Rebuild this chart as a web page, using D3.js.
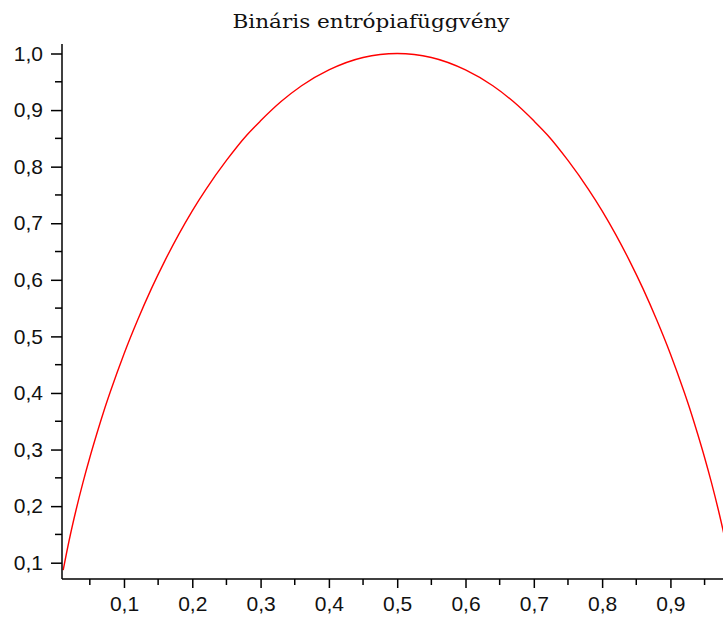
<!DOCTYPE html>
<html><head><meta charset="utf-8">
<script src="https://cdn.jsdelivr.net/npm/d3@7"></script>
<style>body{margin:0;background:#fff;} svg{display:block;}</style>
</head><body>
<svg id="c" width="723" height="618"></svg>
<script>
const title = "Bináris entrópiafüggvény";
const pValues = [0.011,0.02,0.03,0.04,0.05,0.06,0.07,0.08,0.10,0.12,0.14,0.16,0.18,0.20,0.22,0.25,0.28,0.30,0.33,0.36,0.40,0.45,0.50,
                 0.55,0.60,0.64,0.67,0.70,0.72,0.75,0.78,0.80,0.82,0.84,0.86,0.88,0.90,0.92,0.93,0.94,0.95,0.96,0.97,0.98,0.99];
const hValues = [0.087,0.141,0.194,0.242,0.286,0.327,0.366,0.402,0.469,0.529,0.584,0.634,0.680,0.722,0.760,0.811,0.856,0.881,0.915,0.943,0.971,0.993,1.000,
                 0.993,0.971,0.943,0.915,0.881,0.856,0.811,0.760,0.722,0.680,0.634,0.584,0.529,0.469,0.402,0.366,0.327,0.286,0.242,0.194,0.141,0.081];
const xTickValues = [0.1,0.2,0.3,0.4,0.5,0.6,0.7,0.8,0.9];
const xMinorValues = [0.05,0.15,0.25,0.35,0.45,0.55,0.65,0.75,0.85,0.95];
const yTickValues = [0.1,0.2,0.3,0.4,0.5,0.6,0.7,0.8,0.9,1.0];
const yMinorValues = [0.15,0.25,0.35,0.45,0.55,0.65,0.75,0.85,0.95];

const svg = d3.select("#c");
const fmt = d => d3.format(".1f")(d).replace(".", ",");

const x = d3.scaleLinear().domain([0.01, 0.99]).range([62.5, 731.9]);
const y = d3.scaleLinear().domain([0.0712, 1.0]).range([579, 53.5]);
const axisX = 62, axisY = 579;

// curve
const data = pValues.map((p,i)=>[p,hValues[i]]);
svg.append("path").datum(data)
  .attr("fill","none").attr("stroke","#ff0000").attr("stroke-width",1.4)
  .attr("d", d3.line().x(d=>x(d[0])).y(d=>y(d[1])).curve(d3.curveMonotoneX));

// x axis
const gx = svg.append("g").attr("transform",`translate(0,${axisY})`);
gx.call(d3.axisBottom(x).tickValues(xTickValues).tickSize(9).tickPadding(8).tickFormat(fmt).tickSizeOuter(0));
gx.selectAll(".minor").data(xMinorValues).enter().append("line")
  .attr("x1",d=>x(d)).attr("x2",d=>x(d)).attr("y1",0).attr("y2",6).attr("stroke","#000").attr("stroke-width",1.5);
gx.select(".domain").attr("d", `M${axisX},0H723`);

// y axis
const gy = svg.append("g").attr("transform",`translate(${axisX},0)`);
gy.call(d3.axisLeft(y).tickValues(yTickValues).tickSize(11).tickPadding(8).tickFormat(fmt).tickSizeOuter(0));
gy.selectAll(".minor").data(yMinorValues).enter().append("line")
  .attr("y1",d=>y(d)).attr("y2",d=>y(d)).attr("x1",0).attr("x2",-7).attr("stroke","#000").attr("stroke-width",1.5);
gy.select(".domain").attr("d", `M0,44V${axisY}`);

svg.selectAll(".domain, .tick line").attr("stroke","#000").attr("stroke-width",1.5);
svg.selectAll(".tick text").attr("font-family","Liberation Sans, Arial, sans-serif").attr("font-size",21).attr("fill","#111");

svg.append("text").attr("x",371).attr("y",28).attr("text-anchor","middle")
  .attr("font-family","DejaVu Serif, serif").attr("font-size",18).attr("fill","#111")
  .attr("textLength",277).attr("lengthAdjust","spacingAndGlyphs")
  .text(title);
</script>
</body></html>
